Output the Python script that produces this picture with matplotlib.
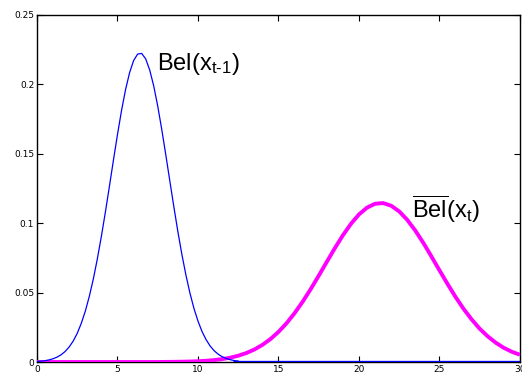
import numpy as np
import matplotlib
matplotlib.use("Agg")
import matplotlib.pyplot as plt

plt.rcParams['font.family'] = ['Liberation Sans', 'DejaVu Sans']
plt.rcParams['mathtext.fontset'] = 'custom'
plt.rcParams['mathtext.rm'] = 'Liberation Sans'
plt.rcParams['mathtext.it'] = 'Liberation Sans'
plt.rcParams['mathtext.bf'] = 'Liberation Sans:bold'

# Bel(x_{t-1}) : x grid step 0.25 from 0 to 12.5
x_prev = np.arange(0, 12.75, 0.25)
bel_prev = [0.00037, 0.00061, 0.00097, 0.00153, 0.00235, 0.00355, 0.00525, 0.00761,
            0.01086, 0.01514, 0.0207, 0.02785, 0.0366, 0.04733, 0.0599, 0.0744,
            0.0906, 0.1082, 0.1267, 0.1456, 0.1639, 0.1811, 0.1962, 0.2084,
            0.2171, 0.2218, 0.2223, 0.2184, 0.2104, 0.1989, 0.1843, 0.1675,
            0.1493, 0.1305, 0.1119, 0.0940, 0.0775, 0.0627, 0.0497, 0.0386,
            0.0295, 0.0220, 0.0162, 0.01161, 0.0082, 0.00567, 0.00384, 0.00256,
            0.00167, 0.00107, 0.00067]

# predicted Bel-bar(x_t): x grid step 0.5 from 0 to 30
x_pred = np.arange(0, 30.5, 0.5)
bel_pred = [0.0] * 16 + [0.000073, 0.00013, 0.00021, 0.00035, 0.00056, 0.00089,
            0.00137, 0.00209, 0.00310, 0.00452, 0.00644, 0.00900, 0.01232, 0.01651,
            0.02168, 0.02789, 0.03515, 0.04339, 0.05246, 0.06215, 0.07209, 0.08195,
            0.09123, 0.09949, 0.1063, 0.1112, 0.1140, 0.1145, 0.1126, 0.1085,
            0.1024, 0.0947, 0.0858, 0.0761, 0.0661, 0.0563, 0.0469, 0.0383,
            0.0307, 0.0240, 0.0185, 0.0139, 0.0102, 0.00738, 0.00522]

# flat blue segment along the axis
base_x = [12.2, 30.0]
base_y = [0.0, 0.0]

xticks = [0, 5, 10, 15, 20, 25, 30]
yticks = [0, 0.05, 0.1, 0.15, 0.2, 0.25]
yticklabels = ['0', '0.05', '0.1', '0.15', '0.2', '0.25']

fig = plt.figure(figsize=(5.22, 3.76), dpi=100)
ax = fig.add_axes([0.0709, 0.0372, 0.9251, 0.923])

ax.plot(x_pred, bel_pred, color='#ff00ff', lw=2.8, solid_capstyle='butt', zorder=2)
ax.plot(x_prev, bel_prev, color='#0000ff', lw=0.9, zorder=3)
ax.plot(base_x, base_y, color='#0000ff', lw=2.4, solid_capstyle='butt', zorder=4)

ax.set_xlim(0, 30)
ax.set_ylim(0, 0.25)
ax.set_xticks(xticks)
ax.set_xticklabels([str(t) for t in xticks], family='DejaVu Sans')
ax.set_yticks(yticks)
ax.set_yticklabels(yticklabels, family='DejaVu Sans')
ax.tick_params(direction='in', length=4, width=0.8, top=True, right=True,
               labelsize=6.5, pad=2)
for s in ax.spines.values():
    s.set_linewidth(1.0)
    s.set_zorder(1)

ax.text(7.45, 0.2104, r'$\mathrm{Bel(x_{t\text{-}1})}$', fontsize=17,
        ha='left', va='baseline')
ax.text(23.27, 0.1040, r'$\mathrm{\overline{Bel}(x_{t})}$', fontsize=17,
        ha='left', va='baseline')

fig.savefig('out.png', dpi=100)
